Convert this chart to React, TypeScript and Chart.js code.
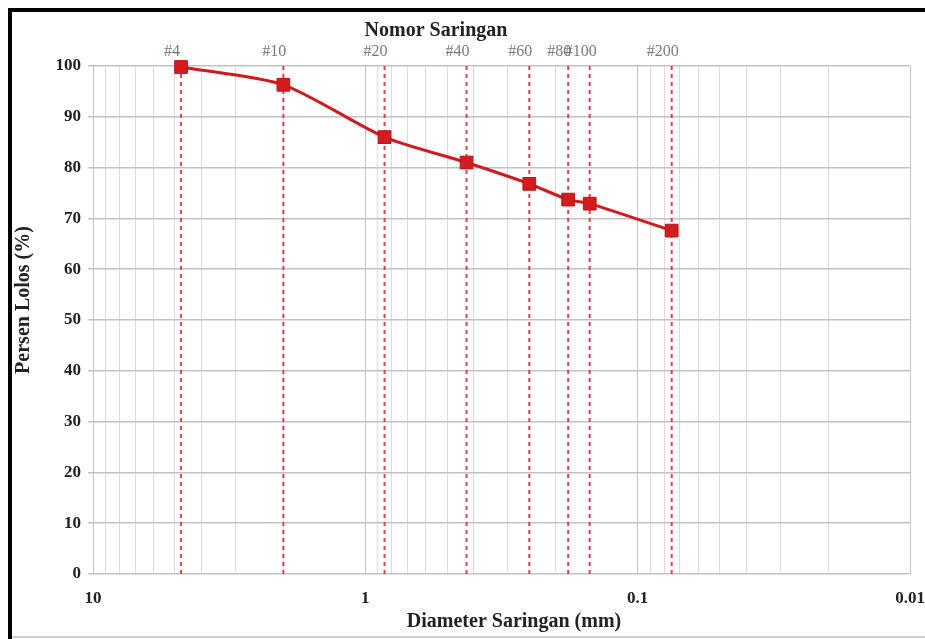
import React, { useEffect, useRef } from "react";
import { Chart, registerables } from "chart.js";

Chart.register(...registerables);

// Sieve data
const sieveNames = ["#4", "#10", "#20", "#40", "#60", "#80", "#100", "#200"];
const sieveSizes = [4.75, 2.0, 0.85, 0.425, 0.25, 0.18, 0.15, 0.075];
const percentPassing = [99.8, 96.3, 86.0, 81.0, 76.8, 73.7, 72.9, 67.6];
const yTicks = [0, 10, 20, 30, 40, 50, 60, 70, 80, 90, 100];
const xDecades = [0.01, 0.1, 1, 10];
const xTickLabels = ["0.01", "0.1", "1", "10"];

const topTitle = "Nomor Saringan";
const xTitle = "Diameter Saringan (mm)";
const yTitle = "Persen Lolos (%)";

const SERIF = "'Liberation Serif', 'Times New Roman', serif";

export default function App() {
  const ref = useRef<HTMLCanvasElement | null>(null);

  useEffect(() => {
    const canvas = ref.current;
    if (!canvas) return;

    const decorPlugin = {
      id: "decor",
      beforeDraw(chart: any) {
        const ctx = chart.ctx;
        ctx.save();
        ctx.fillStyle = "#ffffff";
        ctx.fillRect(0, 0, chart.width, chart.height);
        ctx.restore();
      },
      afterDraw(chart: any) {
        const ctx = chart.ctx;
        const xs = chart.scales.x;
        const area = chart.chartArea;
        ctx.save();
        // frame
        ctx.fillStyle = "#000";
        ctx.fillRect(8, 8, chart.width - 8, 4);
        ctx.fillRect(8, 8, 4, chart.height - 8);
        ctx.fillStyle = "#d0d0d0";
        ctx.fillRect(12, chart.height - 3, chart.width - 12, 2);

        // sieve labels
        ctx.fillStyle = "#7a7a7a";
        ctx.font = `16px ${SERIF}`;
        ctx.textAlign = "center";
        ctx.textBaseline = "middle";
        sieveSizes.forEach((s, i) => {
          const px = xs.getPixelForValue(s);
          ctx.fillText(sieveNames[i], px - 9, area.top - 14);
        });

        // titles
        ctx.fillStyle = "#222";
        ctx.font = `bold 20px ${SERIF}`;
        ctx.textAlign = "center";
        ctx.fillText(topTitle, 436, 31);
        ctx.fillText(xTitle, 514, 622);

        ctx.translate(24, 300);
        ctx.rotate(-Math.PI / 2);
        ctx.fillText(yTitle, 0, 0);
        ctx.restore();
      },
    };

    const datasets: any[] = [
      {
        label: "Persen Lolos",
        data: sieveSizes.map((s, i) => ({ x: s, y: percentPassing[i] })),
        showLine: true,
        clip: false,
        borderColor: "rgb(208,26,30)",
        backgroundColor: "rgb(212,28,32)",
        borderWidth: 3,
        tension: 0.25,
        pointStyle: "rect",
        pointRadius: 9,
        pointBorderColor: "rgb(185,20,25)",
        pointBorderWidth: 1,
        order: 0,
      },
      ...sieveSizes.map((s, i) => ({
        label: sieveNames[i],
        data: [
          { x: s, y: 0 },
          { x: s, y: 100 },
        ],
        showLine: true,
        borderColor: "rgba(232,40,55,0.9)",
        borderWidth: 2,
        borderDash: [4, 4],
        pointRadius: 0,
        order: 1,
      })),
    ];

    const chart = new Chart(canvas, {
      type: "scatter",
      data: { datasets },
      plugins: [decorPlugin],
      options: {
        animation: false,
        responsive: false,
        maintainAspectRatio: false,
        layout: {
          autoPadding: false,
          padding: { left: 12, top: 66, right: 15, bottom: 0 },
        } as any,
        plugins: {
          legend: { display: false },
          tooltip: { enabled: false },
          title: { display: false },
        },
        scales: {
          x: {
            type: "logarithmic",
            reverse: true,
            min: 0.01,
            max: 10,
            afterBuildTicks(scale: any) {
              const t: any[] = [];
              for (let d = 0; d < xDecades.length - 1; d++) {
                for (let m = 1; m <= 9; m++) {
                  t.push({ value: +(xDecades[d] * m).toPrecision(6) });
                }
              }
              t.push({ value: xDecades[xDecades.length - 1] });
              scale.ticks = t;
            },
            afterFit(scale: any) {
              scale.height = 65;
            },
            ticks: {
              autoSkip: false,
              maxRotation: 0,
              padding: 14,
              color: "#222",
              font: { family: SERIF, size: 17, weight: "bold" },
              callback(value: any) {
                const idx = xDecades.findIndex(
                  (d) => Math.abs(d - Number(value)) < d * 1e-6
                );
                return idx >= 0 ? xTickLabels[idx] : "";
              },
            },
            grid: {
              color: (ctx: any) => {
                const v = ctx.tick ? ctx.tick.value : 0;
                const isMajor = xDecades.some(
                  (d) => Math.abs(d - v) < d * 1e-6
                );
                return isMajor ? "#c4c4c4" : "#dcdcdc";
              },
              lineWidth: 1,
              drawTicks: false,
            },
            border: { display: false },
          },
          y: {
            min: 0,
            max: 100,
            afterBuildTicks(scale: any) {
              scale.ticks = yTicks.map((v) => ({ value: v }));
            },
            afterFit(scale: any) {
              scale.width = 81;
            },
            ticks: {
              padding: 7,
              color: "#222",
              font: { family: SERIF, size: 17, weight: "bold" },
            },
            grid: {
              color: "#c2c2c2",
              lineWidth: 1.5,
              tickLength: 5,
            },
            border: { display: false },
          },
        },
      } as any,
    });

    return () => chart.destroy();
  }, []);

  return (
    <div style={{ position: "fixed", left: 0, top: 0, width: 925, height: 639, background: "#fff" }}>
      <canvas ref={ref} width={925} height={639} style={{ display: "block", width: 925, height: 639 }} />
    </div>
  );
}
